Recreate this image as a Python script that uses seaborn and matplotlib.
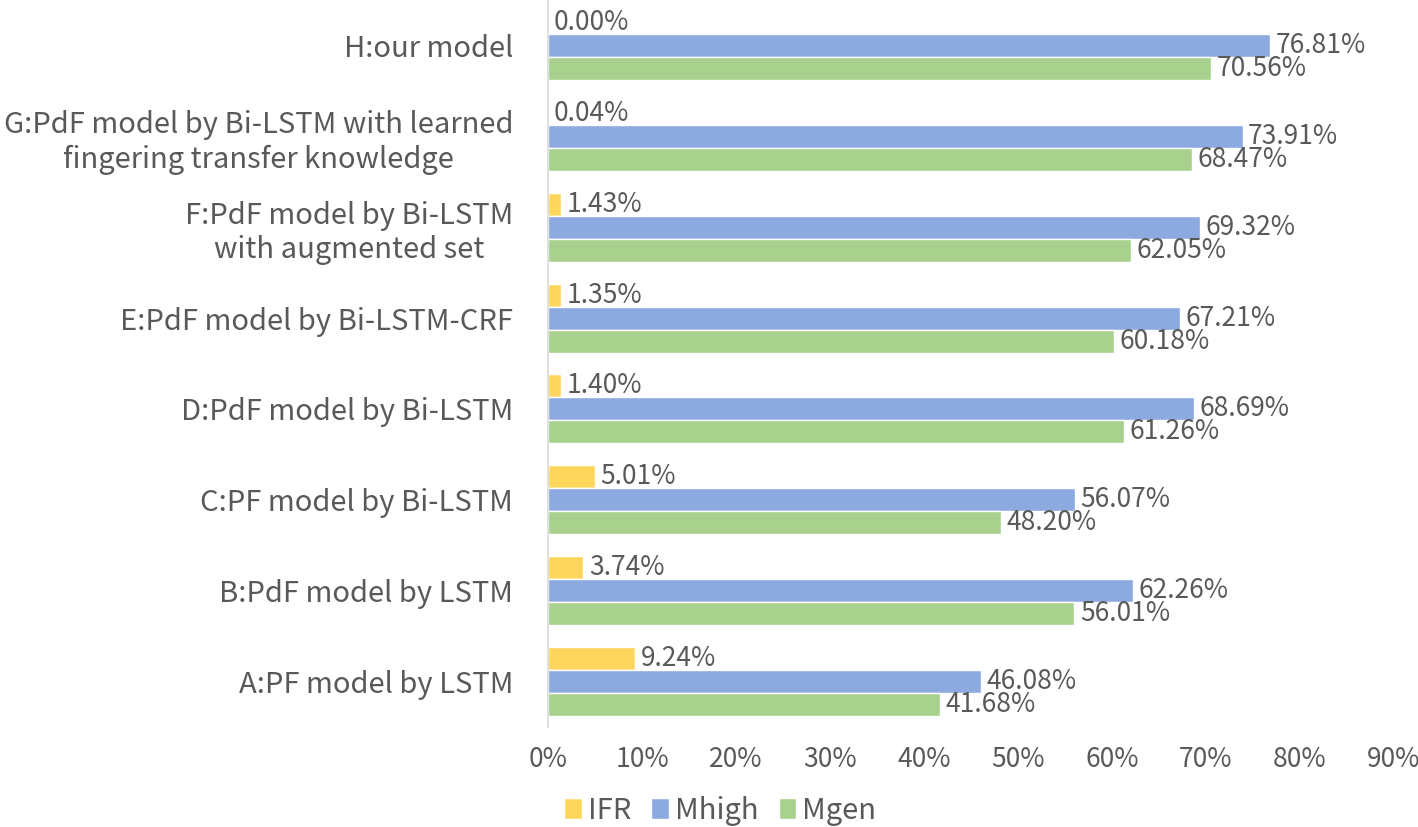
import matplotlib
import matplotlib.pyplot as plt
import pandas as pd
import seaborn as sns
from matplotlib.ticker import FuncFormatter
matplotlib.use('Agg')

models = [
    'H:our model',
    'G:PdF model by Bi-LSTM with learned\nfingering transfer knowledge',
    'F:PdF model by Bi-LSTM\nwith augmented set',
    'E:PdF model by Bi-LSTM-CRF',
    'D:PdF model by Bi-LSTM',
    'C:PF model by Bi-LSTM',
    'B:PdF model by LSTM',
    'A:PF model by LSTM',
]
ifr = [0.00, 0.04, 1.43, 1.35, 1.40, 5.01, 3.74, 9.24]
mhigh = [76.81, 73.91, 69.32, 67.21, 68.69, 56.07, 62.26, 46.08]
mgen = [70.56, 68.47, 62.05, 60.18, 61.26, 48.20, 56.01, 41.68]
series = ['IFR', 'Mhigh', 'Mgen']
colors = ['#FFD65C', '#8CAAE0', '#A9D18E']
text_color = '#595959'

df = pd.DataFrame({'model': models, 'IFR': ifr, 'Mhigh': mhigh, 'Mgen': mgen})
long_df = df.melt(id_vars='model', var_name='metric', value_name='value')

sns.set_style('white')
plt.rcParams['font.family'] = ['Noto Sans CJK SC', 'DejaVu Sans']

fig = plt.figure(figsize=(14.18, 8.27), dpi=100)
ax = fig.add_axes([0.3865, 0.121, 0.5965, 0.879])

sns.barplot(data=long_df, y='model', x='value', hue='metric', hue_order=series,
            palette=colors, orient='h', width=0.76, errorbar=None, ax=ax,
            saturation=1, legend=True)

for container in ax.containers:
    ax.bar_label(container, fmt='%.2f%%', padding=4, fontsize=19, color=text_color)

ax.set_xlim(0, 90)
ax.set_xticks(range(0, 91, 10))
ax.xaxis.set_major_formatter(FuncFormatter(lambda v, p: f'{v:.0f}%'))
ax.set_xlabel('')
ax.set_ylabel('')
ax.tick_params(axis='both', length=0, labelsize=19, colors=text_color)
ax.tick_params(axis='y', labelsize=21, pad=25)
ax.tick_params(axis='x', pad=14)
for lbl in ax.get_yticklabels():
    lbl.set_multialignment('center')

for side in ['top', 'right', 'bottom']:
    ax.spines[side].set_visible(False)
ax.spines['left'].set_color('#D9D9D9')
ax.spines['left'].set_linewidth(1.2)

handles, labels = ax.get_legend_handles_labels()
ax.get_legend().remove()
fig.legend(handles, labels, loc='lower center', bbox_to_anchor=(0.508, -0.03),
           ncol=3, frameon=False, fontsize=21, handlelength=0.6, handleheight=0.7,
           handletextpad=0.2, columnspacing=0.7, labelcolor=text_color)

plt.savefig('out.png', dpi=100)
plt.close()
